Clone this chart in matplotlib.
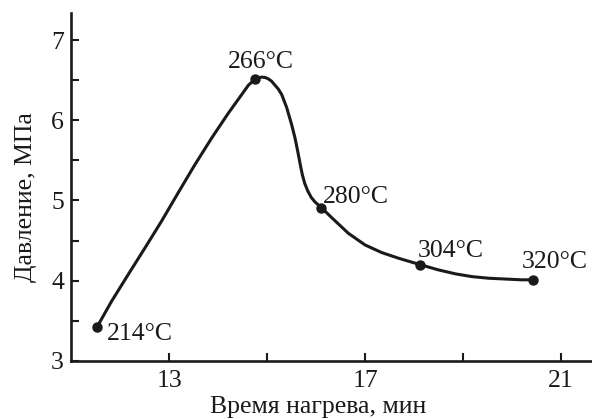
import matplotlib
matplotlib.use("Agg")
import matplotlib.pyplot as plt
from matplotlib.ticker import FixedLocator

plt.rcParams['font.family'] = ['Liberation Serif', 'DejaVu Serif']
plt.rcParams['font.size'] = 18.5

# measured points (heating time, pressure) with temperature labels
time_min = [11.53, 14.75, 16.11, 18.12, 20.43]
pressure = [3.42, 6.51, 4.91, 4.20, 4.01]
temp_labels = ['214°C', '266°C', '280°C', '304°C', '320°C']

# smooth curve traced through the points
curve_t = [11.53, 11.82, 12.16, 12.50, 12.84, 13.18, 13.52, 13.87, 14.21,
           14.48, 14.62, 14.75, 14.82, 14.89, 14.96, 15.02, 15.09, 15.16,
           15.23, 15.30, 15.40, 15.50, 15.57, 15.63, 15.68, 15.72, 15.77,
           15.83, 15.90, 15.98, 16.11, 16.32, 16.66, 17.00, 17.34, 17.68,
           18.12, 18.49, 18.84, 19.18, 19.52, 19.86, 20.20, 20.43]
curve_p = [3.42, 3.735, 4.07, 4.40, 4.735, 5.09, 5.44, 5.78, 6.09,
           6.32, 6.44, 6.51, 6.53, 6.54, 6.535, 6.52, 6.49, 6.44,
           6.39, 6.32, 6.16, 5.95, 5.78, 5.60, 5.44, 5.32, 5.21,
           5.12, 5.04, 4.98, 4.91, 4.785, 4.59, 4.445, 4.35, 4.28,
           4.20, 4.135, 4.085, 4.05, 4.03, 4.02, 4.01, 4.01]

# label offsets in pixels (dx, dy) and horizontal alignment
label_off = [(10, -13), (6, 11), (1, 5), (-2, 8), (-11, 12)]
label_ha = ['left', 'center', 'left', 'left', 'left']

fig = plt.figure(figsize=(5.92, 4.19), dpi=100)
ax = fig.add_axes([0.12, 0.139, 0.88, 0.83])

ax.plot(curve_t, curve_p, color='#1a1a1a', lw=2.2, solid_joinstyle='round',
        solid_capstyle='round')
ax.plot(time_min, pressure, 'o', color='#1a1a1a', ms=6.5)

for x, y, s, off, ha in zip(time_min, pressure, temp_labels, label_off, label_ha):
    ax.annotate(s, (x, y), xytext=off, textcoords='offset pixels',
                ha=ha, va='baseline', color='#1a1a1a')

ax.set_xlim(11.0, 21.63)
ax.set_ylim(3.0, 7.34)

ax.xaxis.set_major_locator(FixedLocator([13, 17, 21]))
ax.xaxis.set_minor_locator(FixedLocator([15, 19]))
ax.yaxis.set_major_locator(FixedLocator([3, 4, 5, 6, 7]))
ax.yaxis.set_minor_locator(FixedLocator([3.5, 4.5, 5.5, 6.5]))
ax.tick_params(which='both', direction='in', length=6, width=1.5,
               color='#1a1a1a', labelcolor='#1a1a1a')
ax.tick_params(axis='x', which='major', pad=7)
ax.tick_params(axis='y', which='major', pad=5)

for side in ['top', 'right']:
    ax.spines[side].set_visible(False)
for side in ['left', 'bottom']:
    ax.spines[side].set_linewidth(1.9)
    ax.spines[side].set_color('#1a1a1a')

ax.set_xlabel('Время нагрева, мин', color='#1a1a1a')
ax.set_ylabel('Давление, МПа', color='#1a1a1a')
ax.xaxis.set_label_coords(0.474, -0.10)
ax.yaxis.set_label_coords(-0.065, 0.47)

fig.savefig('out.png', dpi=100)
